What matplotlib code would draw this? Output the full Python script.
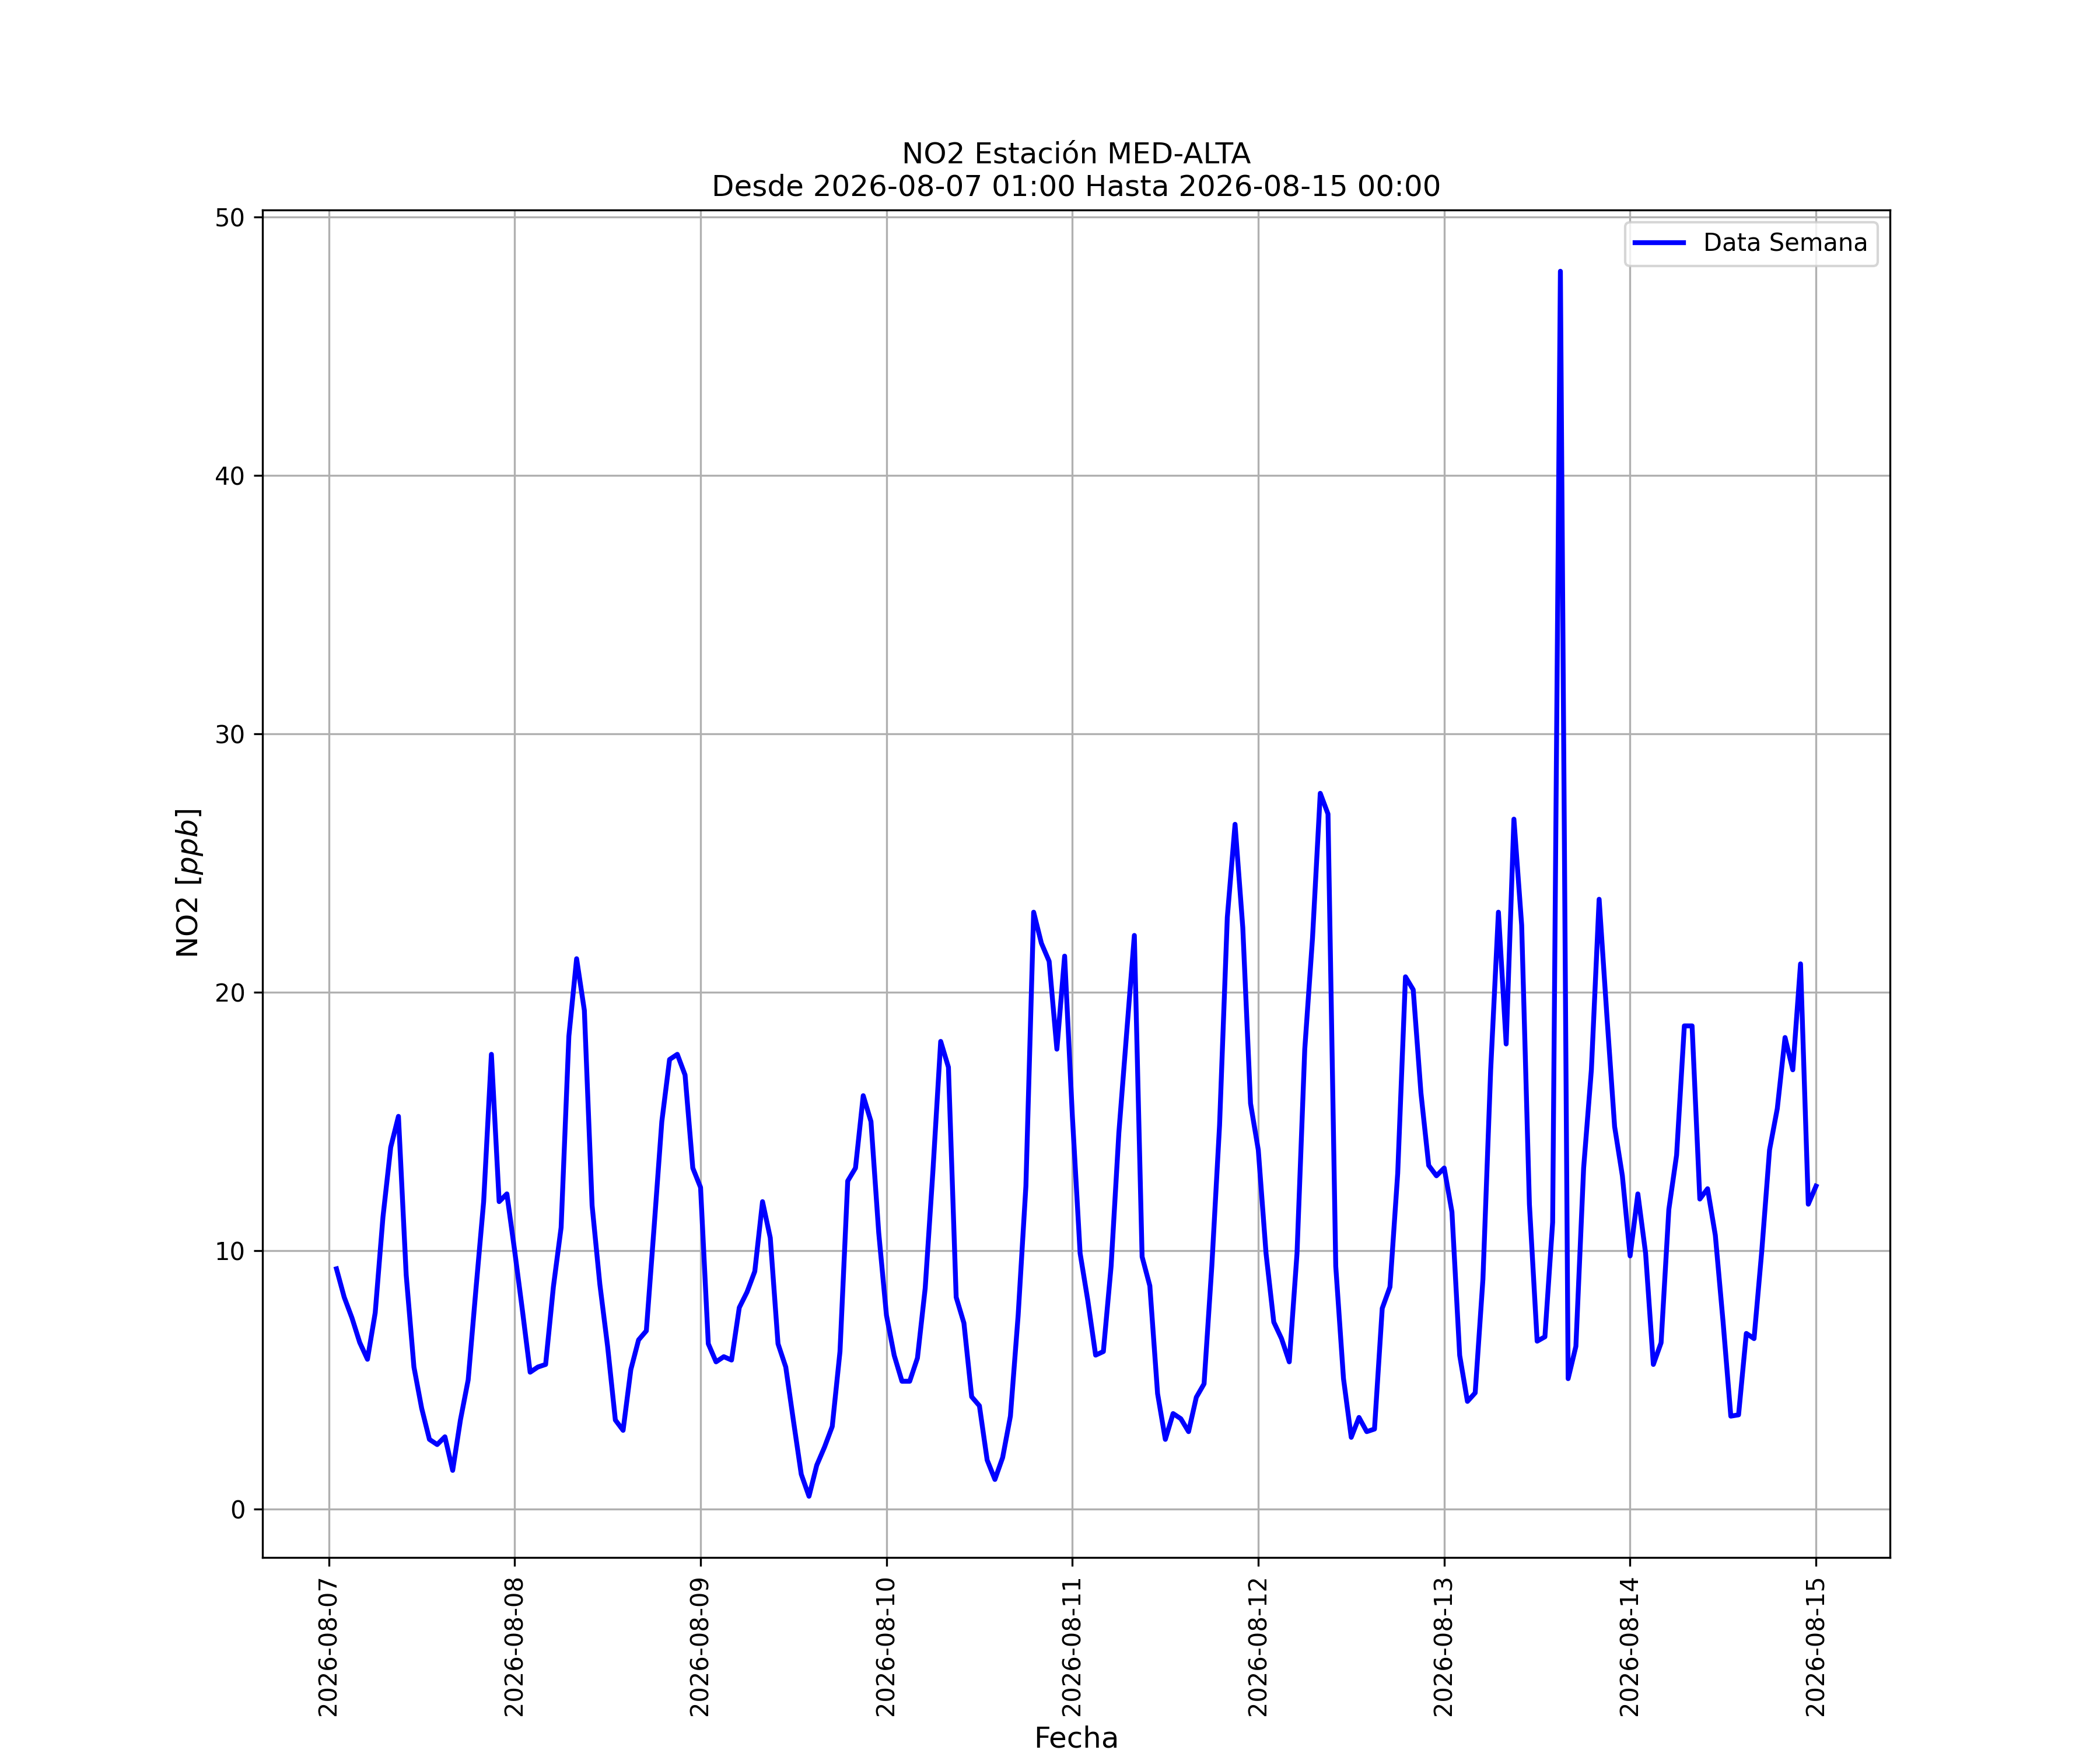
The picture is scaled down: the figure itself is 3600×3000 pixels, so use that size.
import numpy as np
import pandas as pd
import matplotlib
matplotlib.use('Agg')
import matplotlib.pyplot as plt
import matplotlib.dates as mdates

# Hourly NO2 values (ppb), one list per day, from 01:00 to 00:00 of the next day
dia_07 = [9.3, 8.2, 7.4, 6.45, 5.8, 7.6, 11.3, 14.0, 15.2, 9.06, 5.5, 3.9,
          2.7, 2.5, 2.8, 1.5, 3.45, 5.0, 8.5, 11.9, 17.6, 11.9, 12.2, 10.0]
dia_08 = [7.7, 5.3, 5.5, 5.6, 8.6, 10.9, 18.3, 21.3, 19.3, 11.75, 8.7, 6.3,
          3.45, 3.05, 5.4, 6.55, 6.9, 10.9, 15.0, 17.4, 17.6, 16.8, 13.2, 12.45]
dia_09 = [6.4, 5.7, 5.9, 5.77, 7.8, 8.4, 9.2, 11.9, 10.5, 6.4, 5.5, 3.4,
          1.35, 0.5, 1.7, 2.4, 3.2, 6.1, 12.7, 13.2, 16.0, 15.0, 10.7, 7.5]
dia_10 = [5.95, 4.95, 4.95, 5.85, 8.55, 13.1, 18.1, 17.1, 8.2, 7.2, 4.35, 4.0,
          1.9, 1.15, 2.0, 3.6, 7.5, 12.5, 23.1, 21.9, 21.2, 17.8, 21.4, 15.2]
dia_11 = [9.9, 8.06, 5.96, 6.1, 9.4, 14.56, 18.4, 22.2, 9.77, 8.64, 4.47, 2.7,
          3.7, 3.5, 3.0, 4.33, 4.85, 9.4, 14.85, 22.9, 26.5, 22.5, 15.7, 13.9]
dia_12 = [9.9, 7.24, 6.6, 5.7, 9.9, 17.8, 22.1, 27.7, 26.9, 9.4, 5.05, 2.78,
          3.55, 3.0, 3.1, 7.77, 8.6, 13.0, 20.6, 20.1, 16.1, 13.3, 12.9, 13.2]
dia_13 = [11.5, 5.95, 4.17, 4.5, 8.9, 17.0, 23.1, 18.0, 26.7, 22.6, 11.8, 6.5,
          6.67, 11.1, 47.9, 5.05, 6.3, 13.2, 17.0, 23.6, 19.1, 14.8, 12.9, 9.8]
dia_14 = [12.2, 9.9, 5.6, 6.44, 11.6, 13.7, 18.7, 18.7, 12.0, 12.4, 10.6, 7.25,
          3.6, 3.65, 6.8, 6.6, 10.0, 13.9, 15.5, 18.25, 17.0, 21.1, 11.8, 12.5]

no2 = np.array(dia_07 + dia_08 + dia_09 + dia_10 + dia_11 + dia_12 + dia_13 + dia_14)
fechas = pd.date_range('2026-08-07 01:00', periods=len(no2), freq='h')

estacion = 'MED-ALTA'
inicio = fechas[0].strftime('%Y-%m-%d %H:%M')
fin = fechas[-1].strftime('%Y-%m-%d %H:%M')

fig, ax = plt.subplots(figsize=(12, 10), dpi=300)
ax.plot(fechas, no2, color='blue', linewidth=2, label='Data Semana')
ax.set_title('NO2 Estación ' + estacion + '\nDesde ' + inicio + ' Hasta ' + fin, fontsize=12)
ax.set_xlabel('Fecha', fontsize=12)
ax.set_ylabel('NO2 [$ppb$]', fontsize=12)
ax.xaxis.set_major_locator(mdates.DayLocator())
ax.xaxis.set_major_formatter(mdates.DateFormatter('%Y-%m-%d'))
plt.xticks(rotation=90)
ax.grid(True)
ax.legend(loc='upper right')

fig.savefig('out.png', dpi=300)
